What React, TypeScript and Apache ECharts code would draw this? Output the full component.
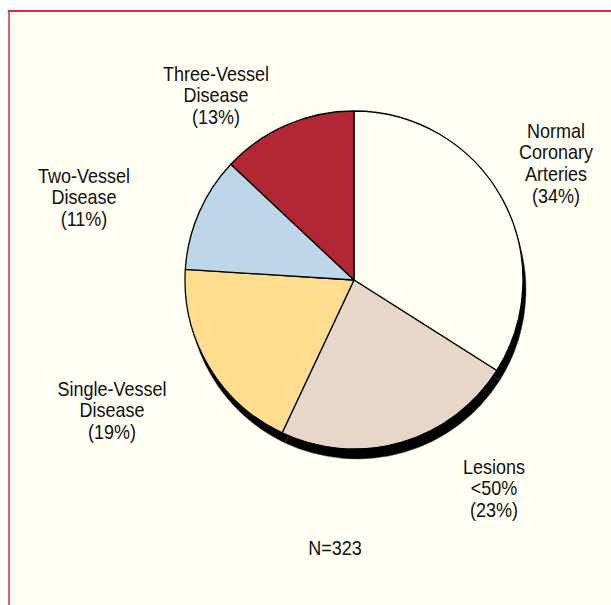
import React, { useEffect, useRef } from "react";
import * as echarts from "echarts";

const categories = [
  "Normal Coronary Arteries",
  "Lesions <50%",
  "Single-Vessel Disease",
  "Two-Vessel Disease",
  "Three-Vessel Disease",
];
const values = [34, 23, 19, 11, 13];
const sliceColors = ["#FFFFF4", "#E8D6C9", "#FFDD8E", "#BDD6EA", "#B22734"];
const labelLines = [
  ["Normal", "Coronary", "Arteries", "(34%)"],
  ["Lesions", "<50%", "(23%)"],
  ["Single-Vessel", "Disease", "(19%)"],
  ["Two-Vessel", "Disease", "(11%)"],
  ["Three-Vessel", "Disease", "(13%)"],
];
const labelPos = [
  [556, 120],
  [494, 456],
  [112, 378],
  [84, 165],
  [216, 63],
];
const footnote = "N=323";

const FONT = "'Liberation Sans', Arial, sans-serif";

export default function App() {
  const ref = useRef<HTMLDivElement>(null);
  useEffect(() => {
    if (!ref.current) return;
    const chart = echarts.init(ref.current, null, { renderer: "svg" });
    const data = categories.map((name, i) => ({
      name,
      value: values[i],
      itemStyle: { color: sliceColors[i] },
    }));
    const shadowData = categories.map((name, i) => ({ name, value: values[i] }));
    const texts: any[] = [];
    labelLines.forEach((lines, i) => {
      texts.push({
        type: "text",
        x: labelPos[i][0],
        y: labelPos[i][1],
        scaleX: 0.9,
        z: 10,
        style: {
          text: lines.join("\n"),
          fontFamily: FONT,
          fontSize: 20,
          lineHeight: 21.7,
          fill: "#111",
          align: "center",
          verticalAlign: "top",
        },
      });
    });
    texts.push({
      type: "text",
      x: 335,
      y: 548,
      scaleX: 0.9,
      z: 10,
      style: {
        text: footnote,
        fontFamily: FONT,
        fontSize: 20,
        fill: "#111",
        align: "center",
        verticalAlign: "middle",
      },
    });
    chart.setOption({
      animation: false,
      backgroundColor: "#ffffff",
      graphic: [
        {
          type: "rect",
          z: -10,
          shape: { x: 8, y: 10, width: 620, height: 620 },
          style: { fill: "#FFFFF3" },
        },
        {
          type: "line",
          z: -5,
          shape: { x1: 9, y1: 11, x2: 9, y2: 620 },
          style: { stroke: "#D9636F", lineWidth: 2 },
        },
        {
          type: "line",
          z: -5,
          shape: { x1: 8, y1: 11, x2: 620, y2: 11 },
          style: { stroke: "#D62A3D", lineWidth: 2 },
        },
        ...texts,
      ],
      series: [
        {
          type: "pie",
          z: 1,
          center: [357, 290],
          radius: [0, 169],
          startAngle: 90,
          clockwise: true,
          silent: true,
          label: { show: false },
          labelLine: { show: false },
          data: shadowData,
          itemStyle: { color: "#000000", borderColor: "#444", borderWidth: 0.5 },
        },
        {
          type: "pie",
          z: 2,
          center: [354, 280],
          radius: [0, 169],
          startAngle: 90,
          clockwise: true,
          silent: true,
          label: { show: false },
          labelLine: { show: false },
          data,
          itemStyle: { borderColor: "#000000", borderWidth: 1.3 },
        },
      ],
    });
    return () => chart.dispose();
  }, []);
  return (
    <div
      ref={ref}
      style={{ position: "fixed", left: 0, top: 0, width: 611, height: 605 }}
    />
  );
}
